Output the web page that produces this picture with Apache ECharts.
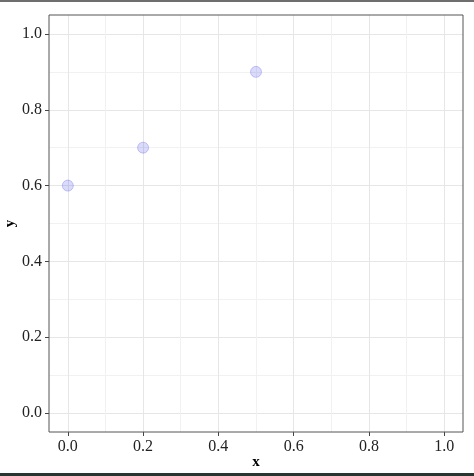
<!DOCTYPE html>
<html>
<head>
<meta charset="utf-8">
<script src="https://cdn.jsdelivr.net/npm/echarts@6/dist/echarts.min.js"></script>
<style>
  html, body { margin: 0; padding: 0; background: #fff; }
  #chart { width: 474px; height: 476px; }
</style>
</head>
<body>
<div id="chart"></div>
<script>
  // data
  var xValues = [0.0, 0.2, 0.5]
  var yValues = [0.6, 0.7, 0.9]
  var majorTicks = [0, 0.2, 0.4, 0.6, 0.8, 1.0]
  var minorTicks = [0.1, 0.3, 0.5, 0.7, 0.9]

  var points = xValues.map(function (x, i) { return [x, yValues[i]] })

  var font = '"Liberation Serif", "DejaVu Serif", serif'
  var fmt = function (v) { return v.toFixed(1) }

  function mainAxis(name, gap, rotate) {
    return {
      type: 'value',
      min: -0.05,
      max: 1.05,
      name: name,
      nameLocation: 'middle',
      nameGap: gap,
      nameRotate: rotate,
      nameMoveOverlap: false,
      nameTextStyle: {fontFamily: font, fontSize: 15, fontWeight: 'bold', color: '#000'},
      axisLine: {show: false, onZero: false},
      axisTick: {show: true, inside: false, length: 4, customValues: majorTicks,
        lineStyle: {color: '#444', width: 1}},
      axisLabel: {customValues: majorTicks, formatter: fmt, margin: 7,
        fontFamily: font, fontSize: 16, color: '#222'},
      splitLine: {show: true, lineStyle: {color: '#e6e6e6', width: 1}}
    }
  }

  function minorAxis(pos) {
    return {
      type: 'value',
      min: -0.05,
      max: 1.05,
      position: pos,
      axisLine: {show: false, onZero: false},
      axisTick: {show: false, customValues: minorTicks},
      axisLabel: {show: false, customValues: minorTicks},
      splitLine: {show: true, lineStyle: {color: '#f1f1f1', width: 1}}
    }
  }

  var chart = echarts.init(document.getElementById('chart'))
  chart.setOption({
    animation: false,
    grid: {
      left: 49, right: 11, top: 15, bottom: 44,
      containLabel: false, outerBoundsMode: 'none',
      show: true, borderColor: '#555', borderWidth: 1, backgroundColor: 'transparent',
      z: 3
    },
    xAxis: [minorAxis('top'), mainAxis('x', 23, 0)],
    yAxis: [minorAxis('right'), mainAxis('y', 31, 90)],
    graphic: [
      {type: 'rect', left: 0, top: 0, shape: {width: 474, height: 2}, style: {fill: '#6e6e6e'}},
      {type: 'rect', left: 0, top: 473, shape: {width: 474, height: 3}, style: {fill: '#263631'}}
    ],
    series: [
      {
        type: 'scatter',
        xAxisIndex: 1,
        yAxisIndex: 1,
        symbolSize: 11,
        itemStyle: {color: 'rgba(70,70,235,0.25)', borderColor: 'rgba(70,70,235,0.35)', borderWidth: 1},
        data: points
      }
    ]
  })
</script>
</body>
</html>
